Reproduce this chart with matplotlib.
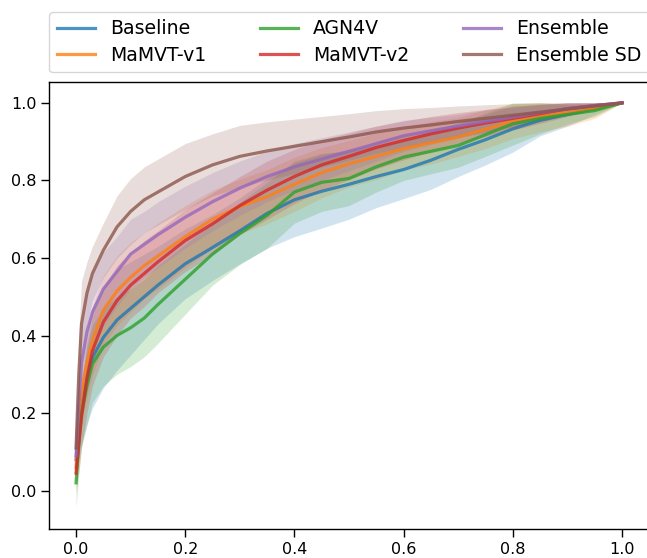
import numpy as np
import matplotlib.pyplot as plt

# -------------------------
# data
# -------------------------
fpr = [0.0, 0.005, 0.01, 0.02, 0.03, 0.05, 0.075, 0.1, 0.125, 0.15, 0.2, 0.25, 0.3, 0.35,
       0.4, 0.45, 0.5, 0.55, 0.6, 0.65, 0.7, 0.75, 0.8, 0.85, 0.9, 0.95, 1.0]

names = ["Baseline", "MaMVT-v1", "AGN4V", "MaMVT-v2", "Ensemble", "Ensemble SD"]

baseline = [0.08, 0.16, 0.22, 0.29, 0.343, 0.395, 0.44, 0.47, 0.50, 0.53, 0.585, 0.627, 0.67, 0.715,
            0.75, 0.772, 0.79, 0.81, 0.828, 0.852, 0.88, 0.905, 0.933, 0.955, 0.97, 0.985, 1.0]
mamvt_v1 = [0.06, 0.17, 0.25, 0.33, 0.387, 0.465, 0.515, 0.55, 0.58, 0.605, 0.655, 0.70, 0.733, 0.758,
            0.79, 0.82, 0.843, 0.862, 0.882, 0.897, 0.912, 0.932, 0.953, 0.965, 0.975, 0.985, 1.0]
agn4v = [0.02, 0.12, 0.20, 0.27, 0.327, 0.37, 0.40, 0.42, 0.445, 0.48, 0.545, 0.61, 0.663, 0.71,
         0.77, 0.795, 0.805, 0.835, 0.86, 0.875, 0.89, 0.918, 0.946, 0.96, 0.97, 0.98, 1.0]
mamvt_v2 = [0.045, 0.12, 0.19, 0.29, 0.36, 0.435, 0.49, 0.53, 0.56, 0.59, 0.645, 0.688, 0.735, 0.775,
            0.81, 0.84, 0.862, 0.885, 0.903, 0.92, 0.935, 0.948, 0.96, 0.972, 0.985, 0.993, 1.0]
ensemble = [0.09, 0.22, 0.33, 0.41, 0.46, 0.52, 0.565, 0.61, 0.635, 0.66, 0.705, 0.745, 0.78, 0.81,
            0.835, 0.855, 0.875, 0.895, 0.915, 0.928, 0.94, 0.952, 0.963, 0.975, 0.985, 0.993, 1.0]
ensemble_sd = [0.11, 0.30, 0.43, 0.51, 0.56, 0.62, 0.68, 0.72, 0.75, 0.77, 0.81, 0.84, 0.862, 0.876,
               0.888, 0.90, 0.912, 0.925, 0.935, 0.943, 0.952, 0.96, 0.968, 0.976, 0.984, 0.992, 1.0]

# spread (std) of each curve
std_baseline = [0.06, 0.08, 0.10, 0.12, 0.13, 0.13, 0.13, 0.12, 0.11, 0.10, 0.09, 0.085, 0.085, 0.09,
                0.095, 0.095, 0.09, 0.08, 0.075, 0.075, 0.07, 0.065, 0.06, 0.04, 0.03, 0.015, 0.0]
std_mamvt_v1 = [0.05, 0.07, 0.08, 0.09, 0.09, 0.09, 0.09, 0.09, 0.085, 0.085, 0.08, 0.075, 0.07, 0.07,
                0.07, 0.065, 0.06, 0.06, 0.055, 0.055, 0.05, 0.05, 0.045, 0.04, 0.035, 0.025, 0.0]
std_agn4v = [0.065, 0.08, 0.09, 0.10, 0.10, 0.10, 0.10, 0.10, 0.10, 0.10, 0.09, 0.08, 0.08, 0.085,
             0.08, 0.075, 0.07, 0.065, 0.06, 0.058, 0.056, 0.056, 0.055, 0.04, 0.025, 0.015, 0.0]
std_mamvt_v2 = [0.05, 0.07, 0.08, 0.09, 0.09, 0.09, 0.09, 0.085, 0.085, 0.08, 0.08, 0.08, 0.075, 0.075,
                0.07, 0.065, 0.06, 0.055, 0.05, 0.045, 0.04, 0.035, 0.03, 0.025, 0.02, 0.01, 0.0]
std_ensemble = [0.05, 0.08, 0.09, 0.10, 0.10, 0.095, 0.09, 0.09, 0.085, 0.085, 0.08, 0.075, 0.07, 0.065,
                0.06, 0.055, 0.05, 0.045, 0.04, 0.035, 0.03, 0.03, 0.025, 0.02, 0.015, 0.01, 0.0]
std_ensemble_sd = [0.06, 0.10, 0.11, 0.08, 0.07, 0.07, 0.08, 0.085, 0.085, 0.085, 0.085, 0.08, 0.08, 0.075,
                   0.07, 0.065, 0.06, 0.055, 0.05, 0.045, 0.04, 0.035, 0.03, 0.025, 0.015, 0.01, 0.0]

means = [baseline, mamvt_v1, agn4v, mamvt_v2, ensemble, ensemble_sd]
stds = [std_baseline, std_mamvt_v1, std_agn4v, std_mamvt_v2, std_ensemble, std_ensemble_sd]
colors = ["tab:blue", "tab:orange", "tab:green", "tab:red", "tab:purple", "tab:brown"]

# -------------------------
# plot
# -------------------------
fig = plt.figure(figsize=(6.47, 5.58), dpi=100)
ax = fig.add_axes([49.3 / 647, 29 / 558, 600 / 647, 446.7 / 558])

x = np.array(fpr)
for name, m, s, c in zip(names, means, stds, colors):
    m = np.array(m)
    s = np.array(s)
    ax.plot(x, m, color=c, lw=2.3, alpha=0.8, label=name)
    ax.fill_between(x, m - s, np.minimum(m + s, 1.0), color=c, alpha=0.2, lw=0)

ax.set_xlim(-0.049, 1.05)
ax.set_ylim(-0.099, 1.053)
ax.set_xticks([0.0, 0.2, 0.4, 0.6, 0.8, 1.0])
ax.set_yticks([0.0, 0.2, 0.4, 0.6, 0.8, 1.0])
ax.tick_params(labelsize=11.5, length=5.5, width=1.0)
for sp in ax.spines.values():
    sp.set_linewidth(1.0)

ax.legend(bbox_to_anchor=(0.0, 1.022, 1.0, 0.1), loc="lower left", mode="expand",
          borderaxespad=0, ncol=3, fontsize=13.6, labelspacing=0.4)

fig.savefig("out.png", dpi=100)
